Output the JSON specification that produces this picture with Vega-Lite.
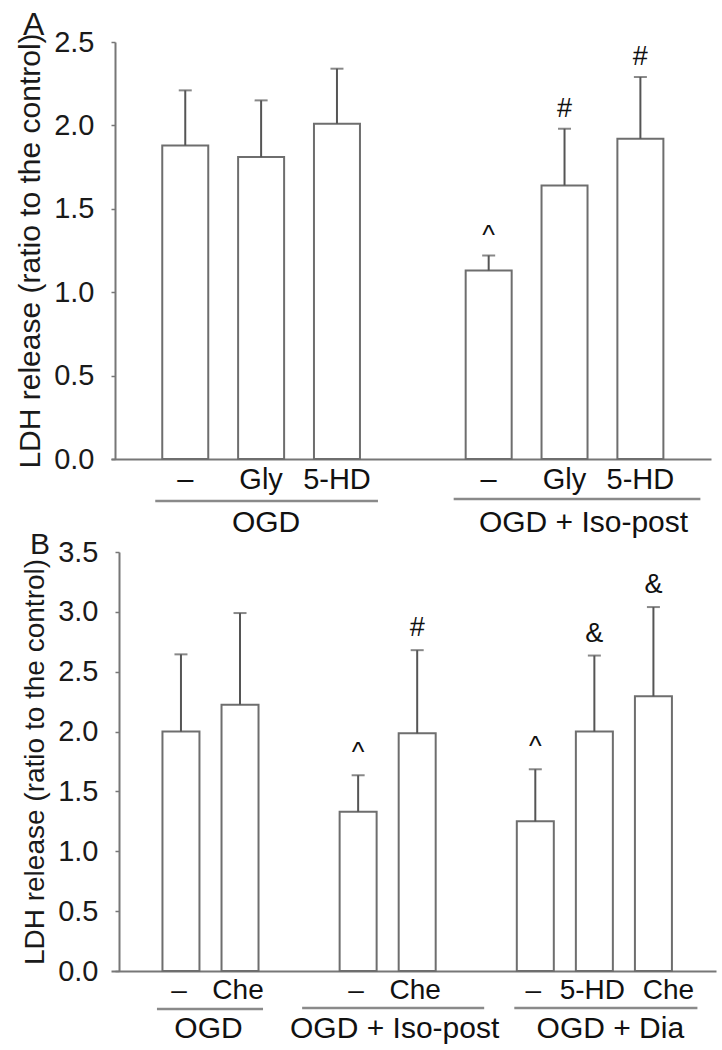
{
  "$schema": "https://vega.github.io/schema/vega-lite/v6.json",
  "autosize": {"type": "pad"},
  "padding": {"left": 15, "top": 9, "right": 7, "bottom": 4},
  "background": "white",
  "config": {
    "font": "Liberation Sans",
    "view": {"stroke": null},
    "axisY": {"domainColor": "#777777", "domainWidth": 2, "tickColor": "#777777", "tickSize": 4, "tickWidth": 1.5, "labelFontSize": 29, "labelColor": "#1a1a1a", "titleFontSize": 28, "titleFontWeight": "normal", "titleColor": "#1a1a1a", "labelPadding": 17, "grid": false, "titlePadding": 8, "format": ".1f"},
    "axisX": {"domainColor": "#777777", "domainWidth": 2, "labels": false, "ticks": false, "grid": false, "title": null},
    "title": {"fontWeight": "normal", "color": "#1a1a1a", "anchor": "start", "frame": "group", "baseline": "alphabetic"}
  },
  "datasets": {
    "A": [
      {"slot": 0, "label": "–", "group": "OGD", "mean": 1.88, "upper": 2.21, "sig": ""},
      {"slot": 1, "label": "Gly", "group": "OGD", "mean": 1.81, "upper": 2.15, "sig": ""},
      {"slot": 2, "label": "5-HD", "group": "OGD", "mean": 2.01, "upper": 2.34, "sig": ""},
      {"slot": 4, "label": "–", "group": "OGD + Iso-post", "mean": 1.13, "upper": 1.22, "sig": "^"},
      {"slot": 5, "label": "Gly", "group": "OGD + Iso-post", "mean": 1.64, "upper": 1.98, "sig": "#"},
      {"slot": 6, "label": "5-HD", "group": "OGD + Iso-post", "mean": 1.92, "upper": 2.29, "sig": "#"}
    ],
    "B": [
      {"slot": 0, "label": "–", "group": "OGD", "mean": 2.0, "upper": 2.645, "sig": ""},
      {"slot": 1, "label": "Che", "group": "OGD", "mean": 2.225, "upper": 2.99, "sig": ""},
      {"slot": 3, "label": "–", "group": "OGD + Iso-post", "mean": 1.33, "upper": 1.635, "sig": "^"},
      {"slot": 4, "label": "Che", "group": "OGD + Iso-post", "mean": 1.985, "upper": 2.68, "sig": "#"},
      {"slot": 6, "label": "–", "group": "OGD + Dia", "mean": 1.25, "upper": 1.685, "sig": "^"},
      {"slot": 7, "label": "5-HD", "group": "OGD + Dia", "mean": 2.0, "upper": 2.635, "sig": "&"},
      {"slot": 8, "label": "Che", "group": "OGD + Dia", "mean": 2.295, "upper": 3.04, "sig": "&"}
    ]
  },
  "bounds": "flush",
  "spacing": 93,
  "vconcat": [
    {
      "width": 600,
      "height": 417,
      "title": {"text": "A", "fontSize": 32, "dx": -88, "offset": -14},
      "data": {"name": "A"},
      "layer": [
        {
          "mark": {"type": "bar", "orient": "vertical", "size": 46, "fill": "white", "stroke": "#6e6e6e", "strokeWidth": 2},
          "encoding": {
            "x": {"field": "slot", "type": "quantitative", "scale": {"domain": [-0.913, 6.865], "nice": false, "zero": false}},
            "y": {"field": "mean", "type": "quantitative", "scale": {"domain": [0, 2.5], "nice": false}, "axis": {"values": [0, 0.5, 1, 1.5, 2, 2.5], "offset": -4, "title": "LDH release (ratio to the control)", "titleFontSize": 30}}
          }
        },
        {
          "mark": {"type": "rule", "color": "#555555", "strokeWidth": 2},
          "encoding": {
            "x": {"field": "slot", "type": "quantitative"},
            "y": {"field": "upper", "type": "quantitative"},
            "y2": {"field": "mean"}
          }
        },
        {
          "mark": {"type": "tick", "orient": "horizontal", "size": 13, "thickness": 2, "color": "#555555"},
          "encoding": {
            "x": {"field": "slot", "type": "quantitative"},
            "y": {"field": "upper", "type": "quantitative"}
          }
        },
        {
          "mark": {"type": "text", "fontSize": 27, "color": "#111111", "baseline": "middle", "dy": -20},
          "encoding": {
            "x": {"field": "slot", "type": "quantitative"},
            "y": {"field": "upper", "type": "quantitative"},
            "text": {"field": "sig"}
          }
        },
        {
          "mark": {"type": "text", "fontSize": 29, "color": "#111111", "baseline": "middle", "dy": 21},
          "encoding": {
            "x": {"field": "slot", "type": "quantitative"},
            "y": {"datum": 0},
            "text": {"field": "label"}
          }
        },
        {
          "transform": [{"filter": "datum.group == 'OGD'"}],
          "layer": [
            {
              "mark": {"type": "rule", "color": "#8a8a8a", "strokeWidth": 2.5, "xOffset": -30, "x2Offset": 41, "yOffset": 42},
              "encoding": {
                "x": {"aggregate": "min", "field": "slot", "type": "quantitative"},
                "x2": {"aggregate": "max", "field": "slot"},
                "y": {"datum": 0}
              }
            },
            {
              "mark": {"type": "text", "fontSize": 30, "color": "#111111", "baseline": "middle", "dy": 64, "dx": 5},
              "encoding": {
                "x": {"aggregate": "mean", "field": "slot", "type": "quantitative"},
                "y": {"datum": 0},
                "text": {"field": "group"}
              }
            }
          ]
        },
        {
          "transform": [{"filter": "datum.group == 'OGD + Iso-post'"}],
          "layer": [
            {
              "mark": {"type": "rule", "color": "#8a8a8a", "strokeWidth": 2.5, "xOffset": -35, "x2Offset": 60, "yOffset": 40},
              "encoding": {
                "x": {"aggregate": "min", "field": "slot", "type": "quantitative"},
                "x2": {"aggregate": "max", "field": "slot"},
                "y": {"datum": 0}
              }
            },
            {
              "mark": {"type": "text", "fontSize": 30, "color": "#111111", "baseline": "middle", "dy": 64, "dx": 19},
              "encoding": {
                "x": {"aggregate": "mean", "field": "slot", "type": "quantitative"},
                "y": {"datum": 0},
                "text": {"field": "group"}
              }
            }
          ]
        }
      ]
    },
    {
      "width": 605,
      "height": 419,
      "title": {"text": "B", "fontSize": 30, "dx": -81, "offset": -22},
      "data": {"name": "B"},
      "layer": [
        {
          "mark": {"type": "bar", "orient": "vertical", "size": 37, "fill": "white", "stroke": "#6e6e6e", "strokeWidth": 2},
          "encoding": {
            "x": {"field": "slot", "type": "quantitative", "scale": {"domain": [-1.1, 8.975], "nice": false, "zero": false}},
            "y": {"field": "mean", "type": "quantitative", "scale": {"domain": [0, 3.5], "nice": false}, "axis": {"values": [0, 0.5, 1, 1.5, 2, 2.5, 3, 3.5], "offset": -8, "title": "LDH release (ratio to the control)"}}
          }
        },
        {
          "mark": {"type": "rule", "color": "#555555", "strokeWidth": 2},
          "encoding": {
            "x": {"field": "slot", "type": "quantitative"},
            "y": {"field": "upper", "type": "quantitative"},
            "y2": {"field": "mean"}
          }
        },
        {
          "mark": {"type": "tick", "orient": "horizontal", "size": 13, "thickness": 2, "color": "#555555"},
          "encoding": {
            "x": {"field": "slot", "type": "quantitative"},
            "y": {"field": "upper", "type": "quantitative"}
          }
        },
        {
          "mark": {"type": "text", "fontSize": 27, "color": "#111111", "baseline": "middle", "dy": -22},
          "encoding": {
            "x": {"field": "slot", "type": "quantitative"},
            "y": {"field": "upper", "type": "quantitative"},
            "text": {"field": "sig"}
          }
        },
        {
          "transform": [{"filter": "datum.slot != 8"}],
          "mark": {"type": "text", "fontSize": 28, "color": "#111111", "baseline": "middle", "dy": 20, "dx": -2},
          "encoding": {
            "x": {"field": "slot", "type": "quantitative"},
            "y": {"datum": 0},
            "text": {"field": "label"}
          }
        },
        {
          "transform": [{"filter": "datum.slot == 8"}],
          "mark": {"type": "text", "fontSize": 28, "color": "#111111", "baseline": "middle", "dy": 20, "dx": 15},
          "encoding": {
            "x": {"field": "slot", "type": "quantitative"},
            "y": {"datum": 0},
            "text": {"field": "label"}
          }
        },
        {
          "transform": [{"filter": "datum.group == 'OGD'"}],
          "layer": [
            {
              "mark": {"type": "rule", "color": "#8a8a8a", "strokeWidth": 2.5, "xOffset": -24, "x2Offset": 23, "yOffset": 38},
              "encoding": {
                "x": {"aggregate": "min", "field": "slot", "type": "quantitative"},
                "x2": {"aggregate": "max", "field": "slot"},
                "y": {"datum": 0}
              }
            },
            {
              "mark": {"type": "text", "fontSize": 30, "color": "#111111", "baseline": "middle", "dy": 58, "dx": -2},
              "encoding": {
                "x": {"aggregate": "mean", "field": "slot", "type": "quantitative"},
                "y": {"datum": 0},
                "text": {"field": "group"}
              }
            }
          ]
        },
        {
          "transform": [{"filter": "datum.group == 'OGD + Iso-post'"}],
          "layer": [
            {
              "mark": {"type": "rule", "color": "#8a8a8a", "strokeWidth": 2.5, "xOffset": -56, "x2Offset": 67, "yOffset": 37},
              "encoding": {
                "x": {"aggregate": "min", "field": "slot", "type": "quantitative"},
                "x2": {"aggregate": "max", "field": "slot"},
                "y": {"datum": 0}
              }
            },
            {
              "mark": {"type": "text", "fontSize": 30, "color": "#111111", "baseline": "middle", "dy": 58, "dx": 7},
              "encoding": {
                "x": {"aggregate": "mean", "field": "slot", "type": "quantitative"},
                "y": {"datum": 0},
                "text": {"field": "group"}
              }
            }
          ]
        },
        {
          "transform": [{"filter": "datum.group == 'OGD + Dia'"}],
          "layer": [
            {
              "mark": {"type": "rule", "color": "#8a8a8a", "strokeWidth": 2.5, "xOffset": -21, "x2Offset": 44, "yOffset": 37},
              "encoding": {
                "x": {"aggregate": "min", "field": "slot", "type": "quantitative"},
                "x2": {"aggregate": "max", "field": "slot"},
                "y": {"datum": 0}
              }
            },
            {
              "mark": {"type": "text", "fontSize": 30, "color": "#111111", "baseline": "middle", "dy": 58, "dx": 16},
              "encoding": {
                "x": {"aggregate": "mean", "field": "slot", "type": "quantitative"},
                "y": {"datum": 0},
                "text": {"field": "group"}
              }
            }
          ]
        }
      ]
    }
  ]
}
